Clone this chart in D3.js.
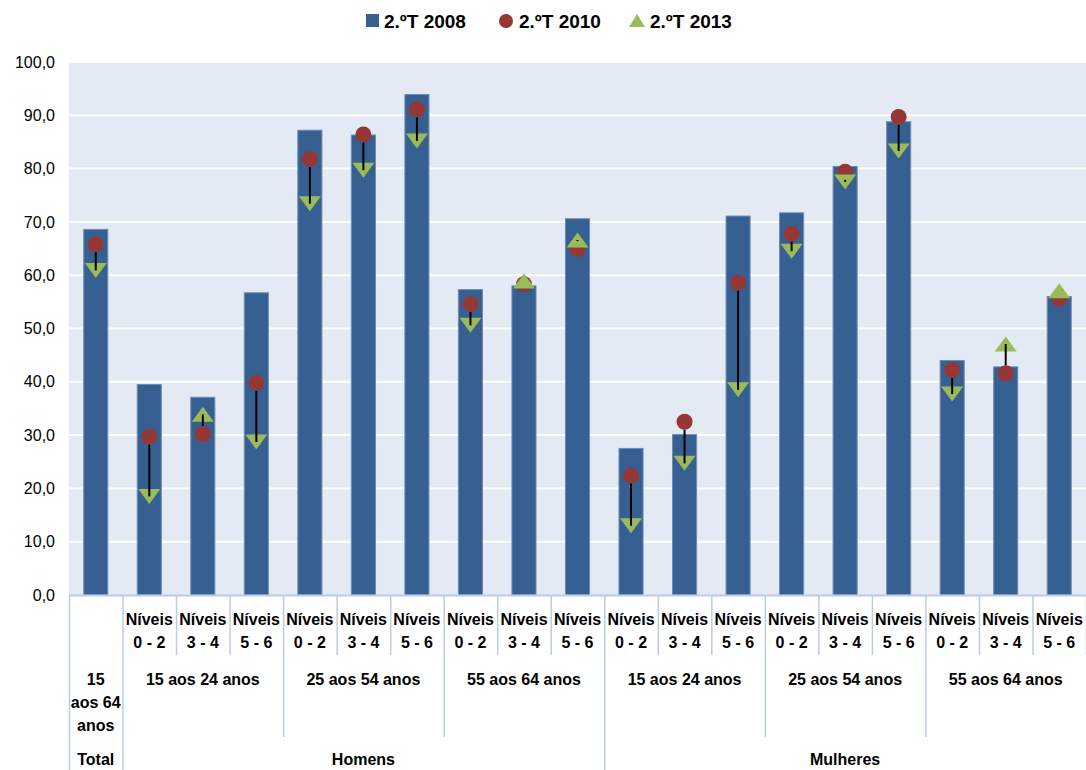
<!DOCTYPE html>
<html>
<head>
<meta charset="utf-8">
<script src="https://cdn.jsdelivr.net/npm/d3@7"></script>
<style>
  body { margin: 0; background: #fff; }
  text { font-family: "Liberation Sans", Arial, sans-serif; }
</style>
</head>
<body>
<div id="svgContainer"></div>
<script>
var svgWidth = 1086, svgHeight = 770;
var margin = {top: 62, left: 69, right: 0, bottom: 175};

// data
var niveis = ["", "0 - 2", "3 - 4", "5 - 6", "0 - 2", "3 - 4", "5 - 6", "0 - 2", "3 - 4", "5 - 6",
              "0 - 2", "3 - 4", "5 - 6", "0 - 2", "3 - 4", "5 - 6", "0 - 2", "3 - 4", "5 - 6"];
var idades = [
  {label: ["15", "aos 64", "anos"], from: 0, to: 1},
  {label: ["15 aos 24 anos"], from: 1, to: 4},
  {label: ["25 aos 54 anos"], from: 4, to: 7},
  {label: ["55 aos 64 anos"], from: 7, to: 10},
  {label: ["15 aos 24 anos"], from: 10, to: 13},
  {label: ["25 aos 54 anos"], from: 13, to: 16},
  {label: ["55 aos 64 anos"], from: 16, to: 19}
];
var sexos = [
  {label: "Total", from: 0, to: 1},
  {label: "Homens", from: 1, to: 10},
  {label: "Mulheres", from: 10, to: 19}
];
var v2008 = [68.6, 39.5, 37.1, 56.7, 87.2, 86.3, 93.9, 57.3, 58.0, 70.6, 27.5, 30.1, 71.1, 71.7, 80.4, 88.8, 44.0, 42.8, 56.0];
var v2010 = [65.8, 29.7, 30.2, 39.8, 81.8, 86.4, 91.1, 54.6, 58.3, 64.9, 22.4, 32.5, 58.6, 67.8, 79.4, 89.7, 42.2, 41.6, 55.6];
var v2013 = [60.9, 18.5, 33.9, 28.7, 73.4, 79.7, 85.2, 50.6, 58.9, 66.6, 13.0, 24.7, 38.5, 64.5, 77.5, 83.3, 37.7, 47.1, 57.1];
var yTicks = [0, 10, 20, 30, 40, 50, 60, 70, 80, 90, 100];
var series = ["2.ºT 2008", "2.ºT 2010", "2.ºT 2013"];

var cBar = "#376092", cCircle = "#953735", cTri = "#9bbb59", cSep = "#b9cde5";

var svg = d3.select("#svgContainer").append("svg")
  .attr("width", svgWidth).attr("height", svgHeight);

var plotBottom = svgHeight - margin.bottom;
var x = d3.scaleBand().domain(d3.range(v2008.length))
  .range([margin.left, svgWidth - margin.right])
  .paddingInner(0.55).paddingOuter(0.275);
var step = x.step();
var edge = function(k){ return margin.left + k * step; };
var y = d3.scaleLinear().domain([0, 100]).range([plotBottom, margin.top]);
var cx = function(i){ return x(i) + x.bandwidth() / 2; };

// rows combining the three series by category
var rows = v2008.map(function(d, i){
  return {i: i, nivel: niveis[i], b: d, c: v2010[i], t: v2013[i]};
});

// plot background
svg.append("rect")
  .attr("x", margin.left).attr("y", margin.top)
  .attr("width", svgWidth - margin.right - margin.left)
  .attr("height", plotBottom - margin.top)
  .attr("fill", "#e3eaf3");

// gridlines
svg.append("g").selectAll("line").data(yTicks.slice(1)).enter().append("line")
  .attr("x1", margin.left).attr("x2", svgWidth - margin.right)
  .attr("y1", d => y(d)).attr("y2", d => y(d))
  .attr("stroke", "#fff").attr("stroke-width", 2);

// y axis
var yAxis = svg.append("g")
  .attr("transform", "translate(" + margin.left + ",0)")
  .call(d3.axisLeft(y).tickValues(yTicks).tickSize(0).tickPadding(14)
    .tickFormat(d => d3.format(".1f")(d).replace(".", ",")));
yAxis.select(".domain").remove();
yAxis.selectAll("text").attr("font-size", 16).attr("fill", "#000")
  .style("font-family", "'Liberation Sans', Arial, sans-serif");

// bars
svg.append("g").selectAll("rect").data(rows).enter().append("rect")
  .attr("x", d => x(d.i))
  .attr("y", d => y(d.b))
  .attr("width", x.bandwidth())
  .attr("height", d => plotBottom - y(d.b))
  .attr("fill", cBar)
  .attr("stroke", "#6d8db5").attr("stroke-width", 1);

var rCircle = 8, tw = 11, th = 7.5;

// circles 2010
svg.append("g").selectAll("circle").data(rows).enter().append("circle")
  .attr("cx", d => cx(d.i)).attr("cy", d => y(d.c))
  .attr("r", rCircle).attr("fill", cCircle);

// triangles 2013
svg.append("g").selectAll("path").data(rows).enter().append("path")
  .attr("transform", d => "translate(" + cx(d.i) + "," + y(d.t) + ")")
  .attr("d", function(d){
    if (d.t < d.c) return "M" + (-tw) + "," + (-th) + "L" + tw + "," + (-th) + "L0," + th + "Z";
    return "M0," + (-th) + "L" + tw + "," + th + "L" + (-tw) + "," + th + "Z";
  })
  .attr("fill", cTri);

// connector lines from circle edge to triangle centre
var linked = rows.filter(d => Math.abs(y(d.t) - y(d.c)) > rCircle);
svg.append("g").selectAll("line").data(linked).enter().append("line")
  .attr("x1", d => cx(d.i)).attr("x2", d => cx(d.i))
  .attr("y1", function(d){
    var dir = y(d.t) > y(d.c) ? 1 : -1;
    return y(d.c) + dir * rCircle;
  })
  .attr("y2", d => y(d.t))
  .attr("stroke", "#000").attr("stroke-width", 2);

// category axis
var axisG = svg.append("g");
axisG.append("line")
  .attr("x1", margin.left).attr("x2", svgWidth)
  .attr("y1", plotBottom + 0.5).attr("y2", plotBottom + 0.5)
  .attr("stroke", cSep).attr("stroke-width", 2);

// separators
var sepLines = [];
for (var k = 0; k <= v2008.length; k++) {
  var bottom = plotBottom + 60;
  if (idades.some(g => g.from === k)) bottom = plotBottom + 142;
  if (sexos.some(g => g.from === k)) bottom = svgHeight;
  sepLines.push({k: k, bottom: bottom});
}
axisG.selectAll("line.sep").data(sepLines).enter().append("line")
  .attr("class", "sep")
  .attr("x1", d => edge(d.k) + 0.5).attr("x2", d => edge(d.k) + 0.5)
  .attr("y1", plotBottom).attr("y2", d => d.bottom)
  .attr("stroke", cSep).attr("stroke-width", 1.5);

// level 1 labels
var lvl1 = axisG.selectAll("text.n").data(rows.filter(d => d.nivel !== "")).enter().append("text")
  .attr("class", "n")
  .attr("text-anchor", "middle")
  .attr("font-size", 16).attr("font-weight", "bold");
lvl1.append("tspan").attr("x", d => cx(d.i)).attr("y", plotBottom + 30).text("Níveis");
lvl1.append("tspan").attr("x", d => cx(d.i)).attr("y", plotBottom + 53).text(d => d.nivel);

// level 2 labels
axisG.selectAll("text.a").data(idades).enter().append("text")
  .attr("class", "a")
  .attr("text-anchor", "middle")
  .attr("font-size", 16).attr("font-weight", "bold")
  .each(function(d){
    var t = d3.select(this);
    var mid = (edge(d.from) + edge(d.to)) / 2;
    d.label.forEach(function(s, j){
      t.append("tspan").attr("x", mid).attr("y", plotBottom + 90 + j * 23).text(s);
    });
  });

// level 3 labels
axisG.selectAll("text.s").data(sexos).enter().append("text")
  .attr("class", "s")
  .attr("text-anchor", "middle")
  .attr("font-size", 16).attr("font-weight", "bold")
  .attr("x", d => (edge(d.from) + edge(d.to)) / 2)
  .attr("y", svgHeight - 5)
  .text(d => d.label);

// legend
var legend = svg.append("g").attr("transform", "translate(0,21)");
var legX = [366, 497, 628];
var lg = legend.selectAll("g").data(series).enter().append("g")
  .attr("transform", (d, i) => "translate(" + legX[i] + ",0)");
lg.each(function(d, i){
  var g = d3.select(this);
  if (i === 0) g.append("rect").attr("x", 0).attr("y", -7).attr("width", 13).attr("height", 13).attr("fill", cBar);
  if (i === 1) g.append("circle").attr("cx", 9).attr("cy", 0).attr("r", 7).attr("fill", cCircle);
  if (i === 2) g.append("path").attr("d", "M9,-7L17,6L1,6Z").attr("fill", cTri);
});
lg.append("text")
  .attr("x", (d, i) => i === 0 ? 18 : 22)
  .attr("y", 7)
  .attr("font-size", 19).attr("font-weight", "bold")
  .text(d => d);
</script>
</body>
</html>
